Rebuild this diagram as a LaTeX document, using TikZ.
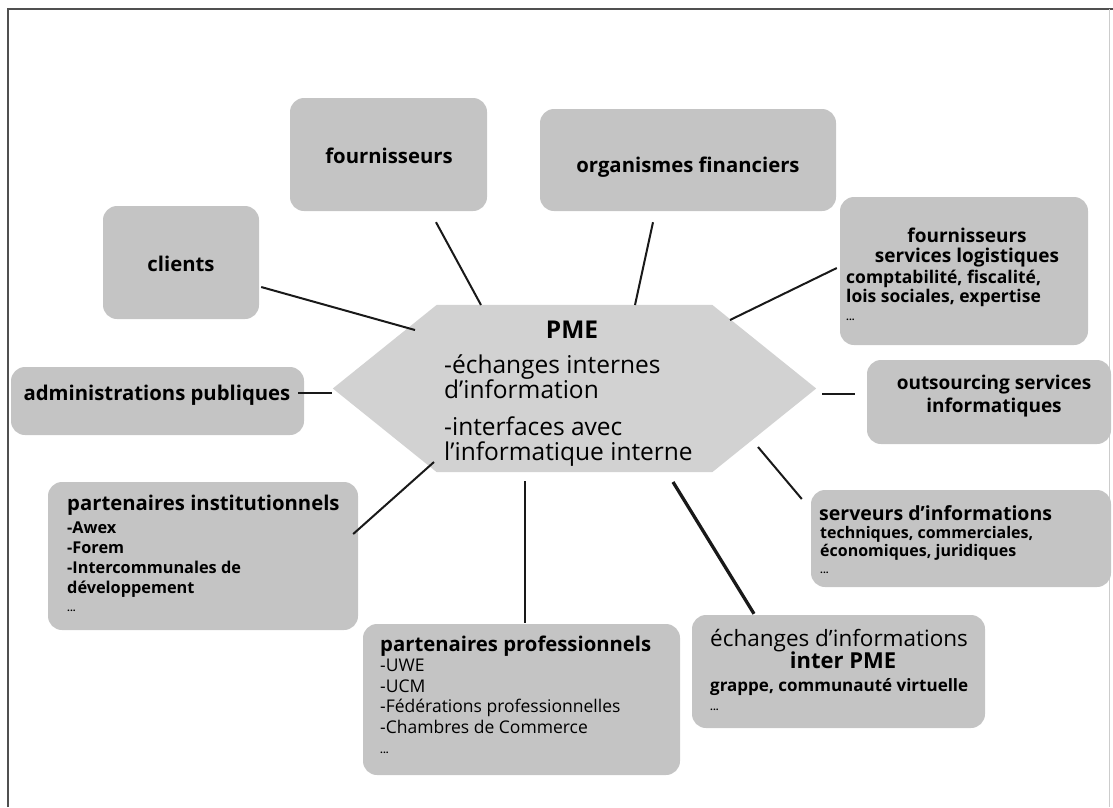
\documentclass[tikz,border=0pt]{standalone}
\usepackage{fontspec}
\setmainfont{Open Sans}
\definecolor{boxgray}{RGB}{196,196,196}
\definecolor{hexgray}{RGB}{210,210,210}
\definecolor{ink}{RGB}{25,25,25}
\definecolor{framecol}{RGB}{80,80,80}
\newcommand\fsz[2]{\fontsize{#1}{#2}\selectfont}

\begin{document}
\begin{tikzpicture}[x=1pt,y=-1pt,
  panel/.style={rounded corners=14pt, fill=boxgray, inner sep=0pt},
  link/.style={draw=ink, line width=2pt},
  biglink/.style={draw=ink, line width=3.3pt},
  hd/.style={font=\fsz{20.3}{19}\bfseries, inner sep=0pt, align=center},
  hdl/.style={font=\fsz{20.3}{19}\bfseries, inner sep=0pt, align=left},
  dots/.style={font=\fsz{10}{10}\bfseries, inner sep=0pt},
  body/.style={font=\fsz{24.5}{25}, inner sep=0pt, align=left}
]
\useasboundingbox (0,0) rectangle (1113,807);

% page frame
\draw[framecol, line width=1.5pt] (8,807) -- (8,9) -- (1113,9);
\draw[black!20, line width=0.8pt] (1109,9) -- (1109,807);

% surrounding panels
\node[panel, minimum width=197pt, minimum height=113pt] (bFour) at (388.5,154.5) {};
\node[panel, minimum width=296pt, minimum height=102pt] (bOrg)  at (688,160) {};
\node[panel, minimum width=156pt, minimum height=113pt] (bCli)  at (181,262.5) {};
\node[panel, minimum width=248pt, minimum height=148pt] (bFsl)  at (964,271) {};
\node[panel, minimum width=293pt, minimum height=68pt]  (bAdm)  at (157.5,401) {};
\node[panel, minimum width=244pt, minimum height=84pt]  (bOut)  at (989,402) {};
\node[panel, minimum width=310pt, minimum height=148pt] (bIns)  at (203,556) {};
\node[panel, minimum width=317pt, minimum height=151pt] (bPro)  at (521.5,699.5) {};
\node[panel, minimum width=293pt, minimum height=113pt] (bInt)  at (838.5,671.5) {};
\node[panel, minimum width=300pt, minimum height=97pt]  (bSrv)  at (961,538.5) {};

% central hexagon
\node[minimum width=483pt, minimum height=167pt, inner sep=0pt] (hex) at (574.5,388.5) {};
\fill[hexgray] (hex.west) -- ([xshift=104pt]hex.north west) -- ([xshift=-104pt]hex.north east)
  -- (hex.east) -- ([xshift=-104pt]hex.south east) -- ([xshift=104pt]hex.south west) -- cycle;

% connectors
\draw[link] ([shift={(2,24.5)}]bCli.east) -- ([shift={(-159.5,-58.5)}]hex.center);
\draw[link] ([shift={(47.5,11)}]bFour.south) -- ([shift={(-93.5,-83.5)}]hex.center);
\draw[link] ([shift={(-35,11)}]bOrg.south) -- ([shift={(60.5,-83.5)}]hex.center);
\draw[link] ([shift={(-3,-3)}]bFsl.west) -- ([shift={(155.5,-68.5)}]hex.center);
\draw[link] ([shift={(-6,-8)}]bAdm.east) -- ([shift={(-1,4.5)}]hex.west);
\draw[link] ([shift={(6,5.5)}]hex.east) -- ([shift={(-12,-8)}]bOut.west);
\draw[link] ([shift={(183.5,58.5)}]hex.center) -- ([shift={(-9,-39.5)}]bSrv.west);
\draw[biglink] ([shift={(98.5,93.5)}]hex.center) -- ([shift={(-84.5,-1)}]bInt.north);
\draw[link] ([shift={(-49.5,92.5)}]hex.center) -- ([shift={(3.5,-1)}]bPro.north);
\draw[link] ([shift={(-140.5,73.5)}]hex.center) -- ([shift={(-5,-22)}]bIns.east);

% texts of the central hexagon (multi-line nodes are placed by their last baseline)
\node[font=\fsz{24.5}{25}\bfseries, inner sep=0pt, anchor=base] (tPme) at (572,338) {PME};
\node[body, anchor=base west] (tPmeA) at (444,398) {-échanges internes\\d’information};
\node[body, anchor=base west] (tPmeB) at (444,460) {-interfaces avec\\l’informatique interne};

% texts of the panels
\node[hd, anchor=base] (tFour) at (389,163) {fournisseurs};
\node[hd, anchor=base] (tOrg) at (688,172) {organismes financiers};
\node[hd, anchor=base] (tCli) at (181,271) {clients};
\node[hd, anchor=base] (tAdm) at (157,400) {administrations publiques};
\node[font=\fsz{19}{23}\bfseries, inner sep=0pt, align=center, anchor=base] (tOut) at (994,412)
  {outsourcing services\\informatiques};

\node[font=\fsz{19}{20}\bfseries, inner sep=0pt, align=center, anchor=base] (tFslH) at (967,262)
  {fournisseurs\\services logistiques};
\node[font=\fsz{17.5}{19}\bfseries, inner sep=0pt, align=left, anchor=base west] (tFslS) at (846,302)
  {comptabilité, fiscalité,\\lois sociales, expertise};
\node[dots, anchor=base west] (tFslD) at (846,320) {...};

\node[hdl, anchor=base west] (tInsH) at (67,510) {partenaires institutionnels};
\node[font=\fsz{16.3}{20}\bfseries, inner sep=0pt, align=left, anchor=base west] (tInsS) at (67,593)
  {-Awex\\-Forem\\-Intercommunales de\\développement};
\node[dots, anchor=base west] (tInsD) at (67,611) {...};

\node[hdl, anchor=base west] (tProH) at (380,651) {partenaires professionnels};
\node[font=\fsz{17.5}{20.5}, inner sep=0pt, align=left, anchor=base west] (tProS) at (380,733)
  {-UWE\\-UCM\\-Fédérations professionnelles\\-Chambres de Commerce};
\node[dots, anchor=base west] (tProD) at (380,753) {...};

\node[font=\fsz{22.5}{22}, inner sep=0pt, anchor=base west] (tIntA) at (710,646) {échanges d’informations};
\node[font=\fsz{22}{22}\bfseries, inner sep=0pt, anchor=base] (tIntB) at (843,668) {inter PME};
\node[font=\fsz{17}{18}\bfseries, inner sep=0pt, anchor=base west] (tIntC) at (710,691) {grappe, communauté virtuelle};
\node[dots, anchor=base west] (tIntD) at (710,710) {...};

\node[font=\fsz{19.5}{19}\bfseries, inner sep=0pt, anchor=base west] (tSrvH) at (819,520) {serveurs d’informations};
\node[font=\fsz{16}{17.5}\bfseries, inner sep=0pt, align=left, anchor=base west] (tSrvS) at (820,556)
  {techniques, commerciales,\\économiques, juridiques};
\node[dots, anchor=base west] (tSrvD) at (820,573) {...};
\end{tikzpicture}
\end{document}
